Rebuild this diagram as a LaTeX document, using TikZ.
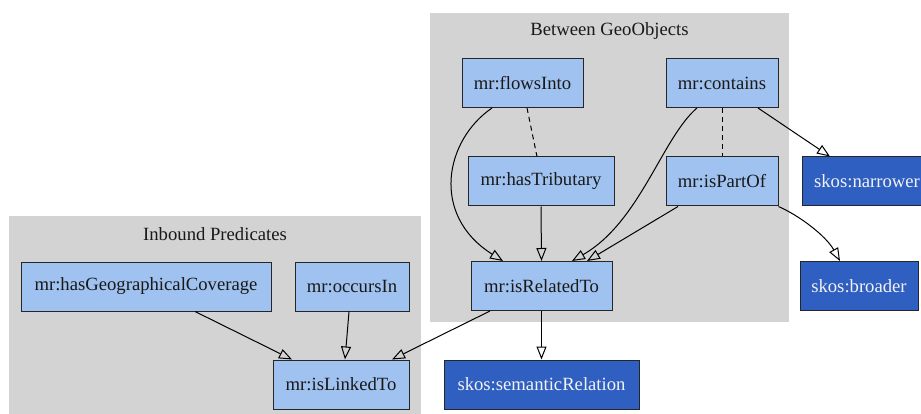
\documentclass[tikz,border=0pt]{standalone}
\usepackage{fontspec}
\setmainfont{Liberation Serif}
\usetikzlibrary{arrows.meta}
\definecolor{predfill}{HTML}{A0C2F0}
\definecolor{skosfill}{HTML}{2F5FC0}
\definecolor{clusterbg}{HTML}{D3D3D3}
\tikzset{
  pred/.style={draw=black!85, fill=predfill, line width=1pt, minimum height=49pt,
    inner sep=0pt, text=black!90, font=\fontsize{18.67}{22}\selectfont},
  skos/.style={pred, fill=skosfill, text=white!95!black},
  cluster/.style={fill=clusterbg, draw=none},
  clabel/.style={font=\fontsize{18.67}{22}\selectfont, text=black!90},
  isa/.style={draw=black, line width=1pt,
    -{Triangle[open, length=13pt, width=10pt, line width=1pt]}},
  link/.style={draw=black, line width=1pt, dash pattern=on 5pt off 4pt}
}
\begin{document}
\begin{tikzpicture}[x=1pt, y=-1pt]
  \useasboundingbox (0,0) rectangle (921,414);
  \clip (0,0) rectangle (921,414);
  \fill[white] (0,0) rectangle (921,414);

  % clusters
  \fill[cluster] (430,13) rectangle (789,322);
  \node[clabel] (cgeo) at (609.5,31) {Between GeoObjects};
  \fill[cluster] (9,216) rectangle (421,420);
  \node[clabel] (cin) at (215,234) {Inbound Predicates};

  % predicates between geo objects
  \node[pred, minimum width=121pt] (flows) at (522.5,83) {mr:flowsInto};
  \node[pred, minimum width=112pt] (contains) at (722,83) {mr:contains};
  \node[pred, minimum width=146pt] (trib) at (541,181.5) {mr:hasTributary};
  \node[pred, minimum width=112pt] (partof) at (722,181.5) {mr:isPartOf};
  \node[pred, minimum width=141pt] (rel) at (541.5,286) {mr:isRelatedTo};

  % inbound predicates
  \node[pred, minimum width=250pt] (geo) at (146,286.5) {mr:hasGeographicalCoverage};
  \node[pred, minimum width=114pt] (occurs) at (352,286.5) {mr:occursIn};
  \node[pred, minimum width=136pt] (linked) at (341,384.5) {mr:isLinkedTo};

  % SKOS properties
  \node[skos, minimum width=130pt] (narrower) at (867,181.5) {skos:narrower};
  \node[skos, minimum width=118pt] (broader) at (859,286) {skos:broader};
  \node[skos, minimum width=195pt] (semrel) at (541.5,384.5) {skos:semanticRelation};

  % inverse pairs
  \draw[link] ([xshift=4.5pt]flows.south) -- ([xshift=-4pt]trib.north);
  \draw[link] (contains.south) -- (partof.north);

  % sub-property edges
  \draw[isa] ([xshift=-30.5pt]flows.south) .. controls (445,140) and (430,215) .. ([xshift=-38.5pt]rel.north);
  \draw[isa] ([xshift=-25pt]contains.south) .. controls (662,138) and (640,222) .. ([xshift=30.5pt]rel.north);
  \draw[isa] (trib.south) -- (rel.north);
  \draw[isa] ([xshift=-44pt]partof.south) -- ([xshift=45.5pt]rel.north);
  \draw[isa] ([xshift=36pt]contains.south) -- ([xshift=-37pt]narrower.north);
  \draw[isa] (partof.south east) .. controls (800,216) and (826,236) .. ([xshift=-19pt]broader.north);
  \draw[isa] (rel.south) -- (semrel.north);
  \draw[isa] ([xshift=-51.5pt]rel.south) -- ([xshift=51pt]linked.north);
  \draw[isa] ([xshift=49pt]geo.south) -- ([xshift=-49pt]linked.north);
  \draw[isa] ([xshift=-3pt]occurs.south) -- ([xshift=4pt]linked.north);
\end{tikzpicture}
\end{document}
